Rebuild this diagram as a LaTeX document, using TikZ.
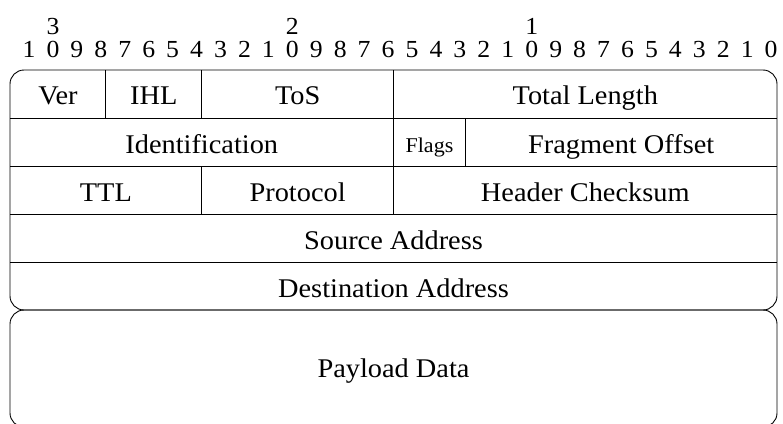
\documentclass[tikz,border=0pt]{standalone}
\usepackage{fontspec}
\setmainfont{Liberation Serif}[FakeStretch=1.05]
\begin{document}
\begin{tikzpicture}[x=1pt,y=-1pt,
  frame/.style={line width=0.9pt,rounded corners=14pt},
  rule/.style={line width=0.9pt},
  lbl/.style={font=\fontsize{27}{31}\selectfont,inner sep=0pt,anchor=base},
  small/.style={font=\fontsize{21}{25}\selectfont,inner sep=0pt,anchor=base},
  bitnum/.style={font=\fontsize{24.5}{28}\selectfont,inner sep=0pt,anchor=base}]
\useasboundingbox (0,0) rectangle (783,423);
\clip (0,0) rectangle (783,423);
% bit width and column edges
\def\bw{23.97}
\def\L{10}
\def\R{777}
% bit numbers 31 ... 0
\foreach \i [evaluate=\i as \xx using {29+23.94*(31-\i)},
             evaluate=\i as \d using {int(mod(\i,10))}] in {0,...,31}
  \node[bitnum] (b\i) at (\xx,57.5) {\d};
\node[bitnum] (t3) at ([yshift=23.3pt]b30.base) {3};
\node[bitnum] (t2) at ([yshift=23.3pt]b20.base) {2};
\node[bitnum] (t1) at ([yshift=23.3pt]b10.base) {1};
% header frame and payload frame
\draw[frame] (\L,190) -- (\L,70) -- (\R,70) -- (\R,310) -- (\L,310) -- cycle;
\draw[frame] (\L,369) -- (\L,310) -- (\R,310) -- (\R,427) -- (\L,427) -- cycle;
% row separators
\foreach \yy in {118,166,214,262}
  \draw[rule] (\L,\yy) -- (\R,\yy);
% field separators
\draw[rule] ({\L+4*\bw},70) -- ({\L+4*\bw},118);
\draw[rule] ({\L+8*\bw},70) -- ({\L+8*\bw},118);
\draw[rule] ({\L+16*\bw},70) -- ({\L+16*\bw},214);
\draw[rule] ({\L+19*\bw},118) -- ({\L+19*\bw},166);
\draw[rule] ({\L+8*\bw},166) -- ({\L+8*\bw},214);
% field labels
\node[lbl] (ver) at ({\L+2*\bw},104.5) {Ver};
\node[lbl] (ihl) at ({\L+6*\bw},104.5) {IHL};
\node[lbl] (tos) at ({\L+12*\bw},104.5) {ToS};
\node[lbl] (len) at ({\L+24*\bw},104.5) {Total Length};
\node[lbl] (ident) at ({\L+8*\bw},153) {Identification};
\node[small] (flags) at ({\L+17.5*\bw},152.5) {Flags};
\node[lbl] (frag) at ({\L+25.5*\bw},153) {Fragment Offset};
\node[lbl] (ttl) at ({\L+4*\bw},201.5) {TTL};
\node[lbl] (proto) at ({\L+12*\bw},201.5) {Protocol};
\node[lbl] (csum) at ({\L+24*\bw},201.5) {Header Checksum};
\node[lbl] (src) at ({\L+16*\bw},249.5) {Source Address};
\node[lbl] (dst) at ({\L+16*\bw},297.5) {Destination Address};
\node[lbl] (data) at ({\L+16*\bw},377.5) {Payload Data};
\end{tikzpicture}
\end{document}
